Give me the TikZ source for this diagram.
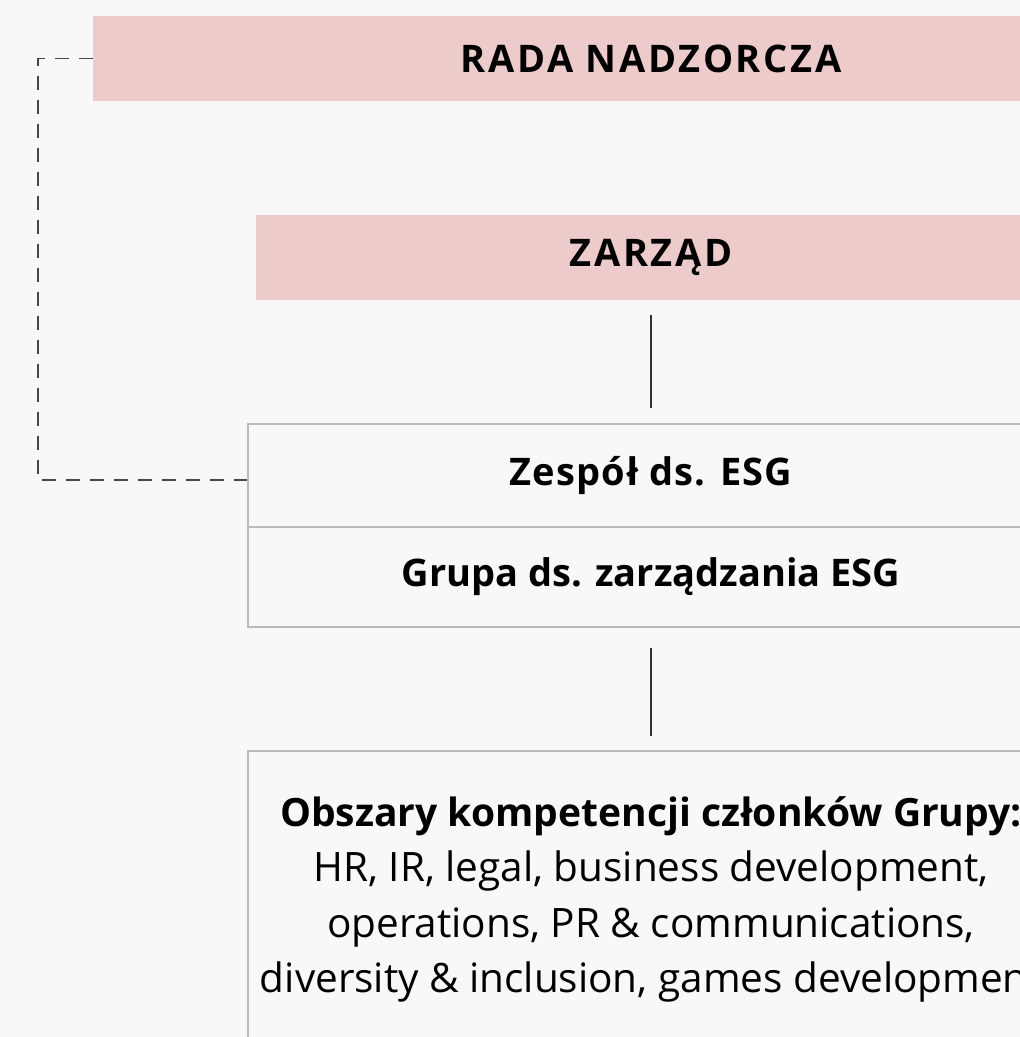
\documentclass[tikz,border=0pt]{standalone}
\usepackage{fontspec}
\setmainfont{Open Sans}
\definecolor{bg}{HTML}{F8F8F8}
\definecolor{pinkbox}{HTML}{EECBCB}
\definecolor{graybord}{HTML}{BBBBBB}
\definecolor{linecol}{HTML}{333333}
\begin{document}
\begin{tikzpicture}[x=1pt,y=-1pt,
  pinkrect/.style={fill=pinkbox,draw=none,inner sep=0pt,minimum height=85pt,
     font=\fontsize{38}{44}\selectfont\bfseries\addfontfeature{LetterSpace=7}},
  grayrect/.style={fill=bg,draw=graybord,line width=2pt,inner sep=0pt,
     minimum width=806pt,font=\fontsize{38}{44}\selectfont\bfseries},
  conn/.style={draw=linecol,line width=1.4pt},
  dashconn/.style={draw=linecol!90,line width=1.3pt,dash pattern=on 14pt off 10pt}]
\useasboundingbox (0,0) rectangle (1020,1037);
\fill[bg] (0,0) rectangle (1020,1037);
\clip (0,0) rectangle (1020,1037);
\node[pinkrect,minimum width=1116pt] (rada) at (651,58.5) {RADA NADZORCZA};
\node[pinkrect,minimum width=790pt] (zarzad) at (651,257.5) {ZARZĄD};
\node[grayrect,minimum height=103pt] (zespol) at (651,475.5) {\addfontfeature{LetterSpace=3}Zespół ds. ESG};
\node[grayrect,minimum height=100pt] (grupa) at (651,577) {Grupa ds. zarządzania ESG};
\node[grayrect,minimum height=360pt] (obszary) at (651,931) {};
\node[align=center,anchor=north,inner sep=0pt,
  font=\fontsize{40.5}{55.5}\selectfont] (txt) at (651,796)
  {{\fontsize{39}{55.5}\selectfont\bfseries Obszary kompetencji członków Grupy:}\\
   HR, IR, legal, business development,\\
   operations, PR \& communications,\\
   diversity \& inclusion, games development};
\draw[conn,shorten <=15pt,shorten >=15pt] (zarzad.south) -- (zespol.north);
\draw[conn,shorten <=20pt,shorten >=14pt] (grupa.south) -- (obszary.north);
\coordinate (corner) at (38,58.5);
\draw[dashconn] (rada.west) -- (corner) |- ([yshift=-4.5pt]zespol.west);
\end{tikzpicture}
\end{document}
